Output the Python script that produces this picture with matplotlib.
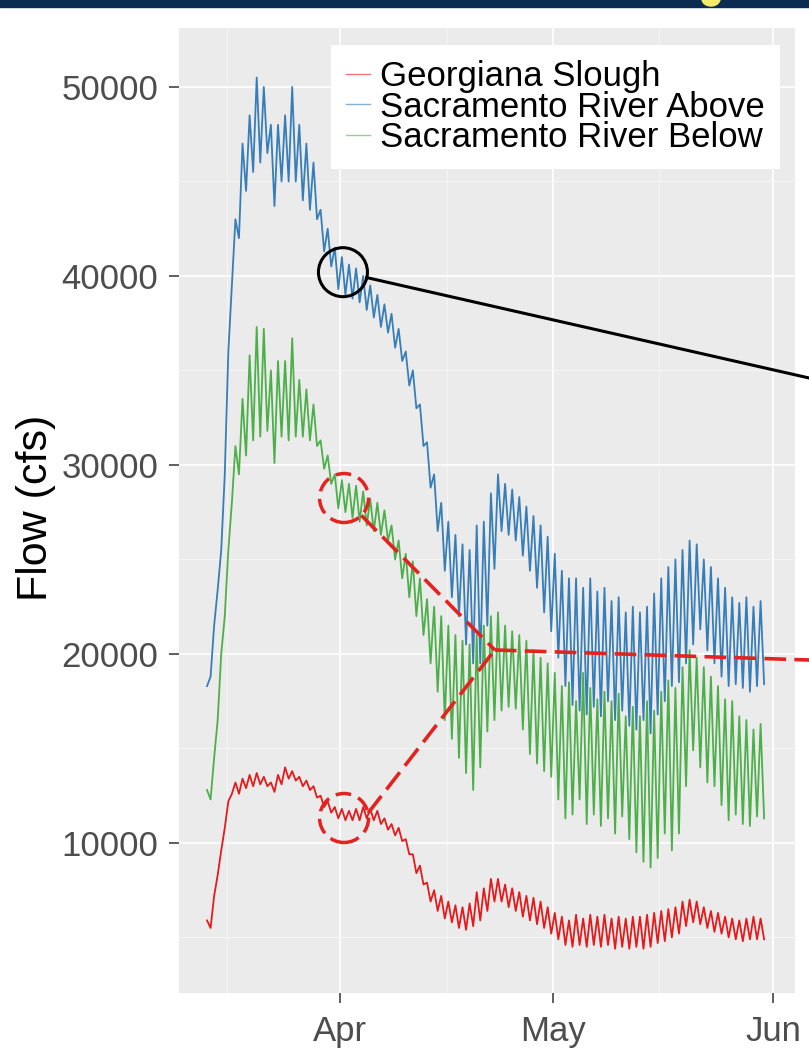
import numpy as np
import matplotlib
matplotlib.use("Agg")
import matplotlib.pyplot as plt
import matplotlib.dates as mdates
from matplotlib.ticker import FixedLocator
from matplotlib.patches import Ellipse, Rectangle
from matplotlib.lines import Line2D

plt.rcParams["font.family"] = ["Liberation Sans", "DejaVu Sans"]

# two readings per day (06:00, 18:00), Mar 13 .. May 31, in 1000 cfs
START = "2013-03-13"

above_am = [18.3, 21.5, 25.5, 36, 43, 47, 48.5, 50.5, 50, 48,
            48, 48.5, 50, 48, 47, 46, 43.5, 42.5, 41.5, 41,
            40.6, 40.4, 40, 39.5, 39, 38.5, 38, 37.2, 36, 35,
            33.2, 31.2, 29.5, 28, 27, 26.3, 25.8, 25.5, 26.8, 27,
            28.5, 29.5, 29, 28.7, 28.3, 27.8, 27.3, 26.8, 26.2, 25.3,
            24.4, 24, 24, 23.5, 24, 23.3, 23.5, 22.8, 23, 22.2,
            22.5, 22.2, 22.5, 23.2, 24, 24.6, 25, 25.5, 26, 25.8,
            25, 24.6, 24, 23.5, 23, 22.7, 23, 22.5, 22.8]
above_pm = [18.8, 23.4, 29.5, 39.5, 42, 44.5, 45.5, 46, 46.5, 43.7,
            45, 45, 45, 44, 43.5, 43, 41.3, 40.5, 39.3, 39,
            38.8, 38.6, 38.2, 37.8, 37.3, 37, 36.2, 35.5, 34.2, 33,
            31, 28.8, 26.5, 24.4, 23, 22, 20.5, 19.5, 19.5, 21.5,
            24.5, 26.5, 26.3, 26, 25.2, 24.4, 23.5, 22.2, 21.2, 19.8,
            18.3, 17.3, 17, 16.8, 17.2, 16.7, 17.5, 16.5, 17, 16.2,
            16, 16.5, 15.8, 16.8, 17.5, 18.3, 18.5, 19.5, 20.5, 21.3,
            20.2, 19.5, 18.8, 18.3, 18.4, 18.2, 18, 18.3, 18.4]

below_am = [12.8, 14.5, 20, 25.5, 31, 33.5, 35.8, 37.3, 37.2, 35,
            35.5, 35.5, 36.7, 34.5, 34, 33.2, 31.3, 30.5, 29.5, 29.2,
            29, 28.9, 28.6, 28.2, 28, 27.6, 26.8, 26, 25.3, 24.9,
            24, 22.9, 22.5, 22, 21.5, 21, 20.7, 20.5, 21, 21.5,
            22, 22.2, 21.5, 21.2, 21, 20.7, 20.2, 19.8, 19.5, 19,
            18.3, 18.5, 17.5, 19, 18.2, 17.6, 18, 17.5, 17.9, 16.7,
            17.2, 16.7, 17.5, 17, 18, 18.6, 18.2, 19.3, 20.2, 19.8,
            19.3, 18.8, 18.3, 17.6, 17.5, 16.7, 16.5, 16, 16.3]
below_pm = [12.3, 16.5, 22, 28, 29.5, 30.5, 31.3, 31.5, 31.8, 30.1,
            31.5, 31.3, 31.5, 31.5, 31.3, 31, 29.8, 29, 27.7, 27.5,
            27.2, 27, 26.8, 26.5, 26.3, 26, 25, 24, 23, 22,
            21, 19.5, 18, 16.5, 15.5, 14.5, 13.7, 12.8, 14, 15.9,
            16.5, 17, 17.2, 17.1, 16, 14.7, 14.2, 13.8, 13.5, 12.3,
            11.3, 11.5, 12.3, 11, 11.5, 10.9, 11.3, 10.5, 11.4, 10.2,
            9.5, 9, 8.7, 9.2, 10.5, 9.6, 10.5, 13, 14.9, 14,
            13.2, 13, 12, 11.2, 11.5, 11, 10.9, 11.4, 11.3]

slough_am = [5.9, 7.2, 9.6, 12.2, 13.2, 13.4, 13.6, 13.7, 13.5, 13.2,
             13.6, 14, 13.8, 13.5, 13.3, 13, 12.5, 12.2, 11.9, 11.8,
             11.7, 11.8, 11.9, 11.8, 11.7, 11.3, 11, 10.8, 10.2, 9.4,
             8.8, 7.9, 7.5, 7.2, 6.9, 6.7, 6.6, 6.8, 7.4, 7.6,
             8.1, 8.1, 7.8, 7.6, 7.4, 7.2, 7.1, 6.9, 6.6, 6.3,
             6.1, 5.9, 6.2, 6.0, 6.2, 6.1, 6.2, 6.0, 6.1, 6.0,
             6.1, 6.1, 6.2, 6.3, 6.4, 6.5, 6.6, 6.9, 7.0, 6.9,
             6.6, 6.4, 6.3, 6.1, 6.0, 5.9, 6.0, 6.1, 6.0]
slough_pm = [5.5, 8.3, 10.8, 12.6, 12.6, 12.9, 13, 13.1, 13, 12.7,
             13.1, 13.4, 13.3, 13, 12.8, 12.4, 11.9, 11.6, 11.3, 11.2,
             11.2, 11.2, 11.3, 11.2, 11, 10.7, 10.4, 10.1, 9.4, 8.4,
             7.8, 6.9, 6.4, 6, 5.8, 5.5, 5.4, 5.6, 5.9, 6.4,
             6.9, 6.9, 6.6, 6.4, 6.1, 5.9, 5.7, 5.5, 5.2, 4.9,
             4.6, 4.5, 4.6, 4.5, 4.6, 4.5, 4.6, 4.4, 4.5, 4.4,
             4.5, 4.4, 4.5, 4.7, 4.8, 5, 5.2, 5.6, 5.8, 5.7,
             5.5, 5.3, 5.2, 5, 4.9, 4.8, 4.9, 4.9, 4.9]

names = ["Georgiana Slough", "Sacramento River Above", "Sacramento River Below"]
colors = ["#E41A1C", "#377EB8", "#4DAF4A"]
yticks = [10000, 20000, 30000, 40000, 50000]
yminor = [5000, 15000, 25000, 35000, 45000]
xtick_dates = ["2013-04-01", "2013-05-01", "2013-06-01"]
xtick_labels = ["Apr", "May", "Jun"]
xminor_dates = ["2013-03-16", "2013-04-16", "2013-05-16"]


def tidal(am, pm):
    v = np.empty(2 * len(am))
    v[0::2] = am
    v[1::2] = pm
    return v * 1000


n = len(above_am)
t = np.datetime64(START) + np.arange(2 * n) * np.timedelta64(12, "h") + np.timedelta64(6, "h")
t = mdates.date2num(t)

W, H = 809, 1059
fig = plt.figure(figsize=(W / 100, H / 100), dpi=100)
ax = fig.add_axes([179 / W, 1 - 993 / H, 616 / W, 965 / H])
ax.set_facecolor("#EBEBEB")
for s in ax.spines.values():
    s.set_visible(False)

flows = [tidal(slough_am, slough_pm), tidal(above_am, above_pm), tidal(below_am, below_pm)]
for name, col, f in zip(names, colors, flows):
    ax.plot(t, f, color=col, lw=1.3, label=name)

apr1 = mdates.date2num(np.datetime64("2013-04-01"))
ax.set_xlim(apr1 - 22.7, apr1 + 64.1)
ax.set_ylim(2060, 53120)

ax.xaxis.set_major_locator(FixedLocator(mdates.date2num(np.array(xtick_dates, dtype="datetime64[D]"))))
ax.xaxis.set_minor_locator(FixedLocator(mdates.date2num(np.array(xminor_dates, dtype="datetime64[D]"))))
ax.set_xticklabels(xtick_labels)
ax.yaxis.set_major_locator(FixedLocator(yticks))
ax.yaxis.set_minor_locator(FixedLocator(yminor))
ax.set_yticklabels([str(v) for v in yticks])

ax.grid(which="major", color="white", lw=1.2)
ax.grid(which="minor", color="#F6F6F6", lw=0.7)
ax.set_axisbelow(True)
ax.tick_params(which="major", length=7, width=1.1, color="#333333",
               labelsize=25, labelcolor="#4D4D4D")
ax.tick_params(axis="y", pad=8)
ax.tick_params(axis="x", pad=9)
ax.tick_params(which="minor", length=0)

ax.set_ylabel("Flow (cfs)", fontsize=31, color="black")
ax.yaxis.set_label_coords(-0.2, 0.503)

handles = [Line2D([], [], color=c, lw=1.0, alpha=0.6) for c in colors]
leg = ax.legend(handles, names, loc="upper right", bbox_to_anchor=(0.975, 0.982),
                borderaxespad=0, fontsize=25, frameon=True, fancybox=False,
                handlelength=0.7, handletextpad=0.3, borderpad=0.42,
                labelspacing=-0.07)
leg.get_frame().set_facecolor("white")
leg.get_frame().set_edgecolor("none")
leg.get_frame().set_alpha(1)

# slide header bar and the bit of title glyph poking into it
fig.add_artist(Rectangle((0, 1 - 7 / H), 1, 7 / H, transform=fig.transFigure,
                         color="#0C2B50", zorder=5))
fig.add_artist(Ellipse((711 / W, 1 + 1 / H), 18 / W, 14 / H, transform=fig.transFigure,
                       color="#F2EC6A", zorder=6))

# callouts, anchored in data space (days from Apr 1, cfs)
to_fig = fig.transFigure.inverted()


def px(day, flow):
    return ax.transData.transform((apr1 + day, flow))


def fig_pt(p):
    return to_fig.transform(p)


def ring(center, r, color, lw, dashes=None):
    c = fig_pt(center)
    e = Ellipse(c, 2 * r / W, 2 * r / H, transform=fig.transFigure, fill=False,
                edgecolor=color, lw=lw, zorder=7)
    if dashes:
        e.set_linestyle((0, dashes))
    fig.add_artist(e)


def seg(p0, p1, color, lw, dashes=None):
    a, b = fig_pt(p0), fig_pt(p1)
    ln = Line2D([a[0], b[0]], [a[1], b[1]], transform=fig.transFigure,
                color=color, lw=lw, zorder=7)
    if dashes:
        ln.set_linestyle((0, dashes))
    fig.add_artist(ln)


def edge(center, toward, r):
    d = toward - center
    return center + r * d / np.hypot(*d)


R = 24.5
red = "#E3231F"
black_c = px(0.4, 40200)
black_end = px(66.1, 34600)
seg(edge(black_c, black_end, R), black_end, "black", 2.2)
ring(black_c, R, "black", 2.2)

top_c = px(0.56, 28250)
bot_c = px(0.56, 11320)
hub = px(21.8, 20210)
red_end = px(66.1, 19680)
ring(top_c, R, red, 2.5, (4.5, 2.2))
ring(bot_c, R, red, 2.5, (4.5, 2.2))
seg(edge(top_c, hub, R), hub, red, 2.6, (6, 2.3))
seg(bot_c + R * np.array([0.98, 0.2]), hub, red, 2.6, (6, 2.3))
seg(hub, red_end, red, 2.6, (6, 2.3))

fig.savefig("out.png", dpi=100)
